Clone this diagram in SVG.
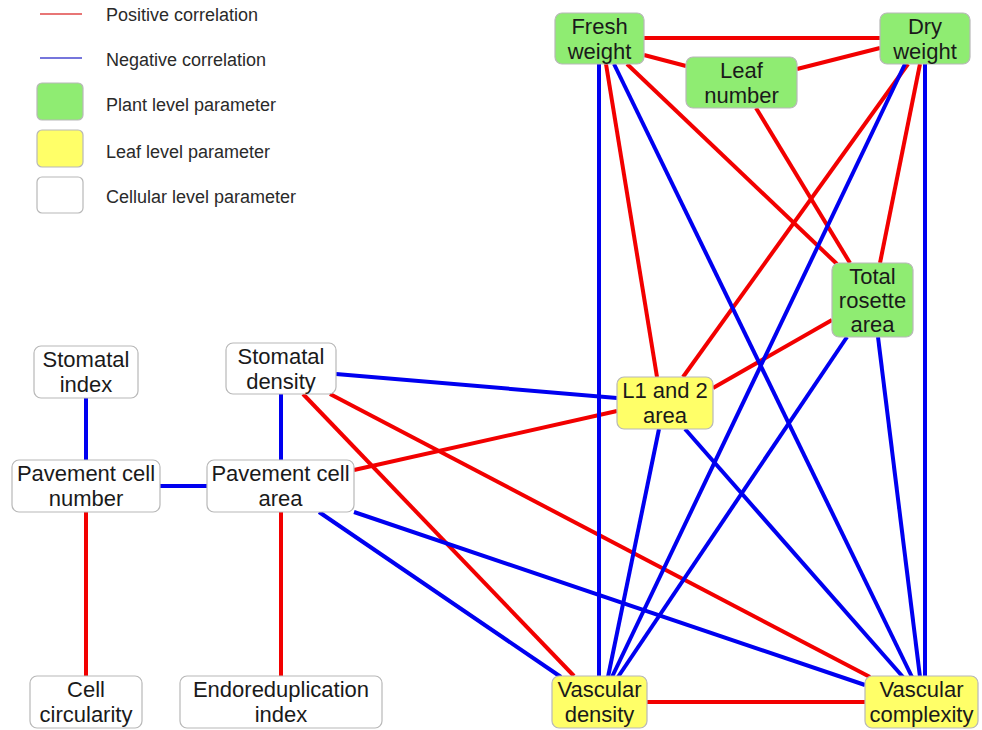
<svg xmlns="http://www.w3.org/2000/svg" width="982" height="730" viewBox="0 0 982 730">
<style>
.pos{stroke:#f20000;stroke-width:4;fill:none}
.neg{stroke:#0000f0;stroke-width:4;fill:none}
.box{stroke:#b8b8b8;stroke-width:1.2}
.plant{fill:#8fec72}
.leaf{fill:#ffff68}
.cell{fill:#ffffff}
text{font-family:"Liberation Sans",Arial,sans-serif;fill:#1a1a1a}
.n{font-size:22px;text-anchor:middle}
.lg{font-size:18px;fill:#2a2a2a}
</style>
<rect width="982" height="730" fill="#ffffff"/>
<g id="legend">
<line x1="40" y1="14" x2="82" y2="14" stroke="#e04848" stroke-width="1.6"/>
<text class="lg" x="106" y="21">Positive correlation</text>
<line x1="40" y1="58" x2="82" y2="58" stroke="#4848d0" stroke-width="1.6"/>
<text class="lg" x="106" y="66">Negative correlation</text>
<rect class="box plant" x="37" y="83" width="46" height="37" rx="5"/>
<text class="lg" x="106" y="111">Plant level parameter</text>
<rect class="box leaf" x="37" y="130" width="46" height="37" rx="5"/>
<text class="lg" x="106" y="158">Leaf level parameter</text>
<rect class="box cell" x="37" y="177" width="46" height="36" rx="5"/>
<text class="lg" x="106" y="203">Cellular level parameter</text>
</g>
<g id="connectors">
<line class="pos" x1="644" y1="38" x2="880" y2="38"/>
<line class="pos" x1="644" y1="55" x2="686" y2="66"/>
<line class="pos" x1="797" y1="69" x2="880" y2="48"/>
<line class="pos" x1="606" y1="64" x2="657" y2="377"/>
<line class="pos" x1="627" y1="64" x2="837" y2="264"/>
<line class="pos" x1="756" y1="108" x2="850" y2="263"/>
<line class="pos" x1="920" y1="64" x2="880" y2="263"/>
<line class="pos" x1="908" y1="64" x2="683" y2="377"/>
<line class="pos" x1="832" y1="320" x2="713" y2="388"/>
<line class="pos" x1="354" y1="470" x2="617" y2="411"/>
<line class="pos" x1="303" y1="394" x2="574" y2="676"/>
<line class="pos" x1="330" y1="394" x2="870" y2="677"/>
<line class="pos" x1="647" y1="702" x2="865" y2="702"/>
<line class="pos" x1="86" y1="512" x2="86" y2="676"/>
<line class="pos" x1="281" y1="512" x2="281" y2="676"/>
<line class="neg" x1="86" y1="398" x2="86" y2="460"/>
<line class="neg" x1="281" y1="394" x2="281" y2="460"/>
<line class="neg" x1="160" y1="486" x2="207" y2="486"/>
<line class="neg" x1="336" y1="374" x2="617" y2="398"/>
<line class="neg" x1="319" y1="512" x2="561" y2="677"/>
<line class="neg" x1="354" y1="512" x2="865" y2="685"/>
<line class="neg" x1="599" y1="64" x2="599" y2="677"/>
<line class="neg" x1="614" y1="64" x2="912" y2="677"/>
<line class="neg" x1="905" y1="64" x2="612" y2="677"/>
<line class="neg" x1="925" y1="64" x2="925" y2="677"/>
<line class="neg" x1="847" y1="337" x2="618" y2="677"/>
<line class="neg" x1="878" y1="337" x2="920" y2="677"/>
<line class="neg" x1="659" y1="429" x2="608" y2="677"/>
<line class="neg" x1="685" y1="429" x2="903" y2="677"/>
</g>
<g id="fresh-weight"><rect class="box plant" x="555" y="13" width="89" height="51" rx="7"/><text class="n" x="599.5" y="34">Fresh</text><text class="n" x="599.5" y="59">weight</text></g>
<g id="dry-weight"><rect class="box plant" x="880" y="13" width="90" height="51" rx="7"/><text class="n" x="925" y="34">Dry</text><text class="n" x="925" y="59">weight</text></g>
<g id="leaf-number"><rect class="box plant" x="686" y="57" width="111" height="51" rx="7"/><text class="n" x="741.5" y="78">Leaf</text><text class="n" x="741.5" y="103">number</text></g>
<g id="total-rosette-area"><rect class="box plant" x="832" y="263" width="81" height="74" rx="7"/><text class="n" x="872.5" y="284">Total</text><text class="n" x="872.5" y="308">rosette</text><text class="n" x="872.5" y="332">area</text></g>
<g id="l1-and-2-area"><rect class="box leaf" x="617" y="377" width="96" height="52" rx="7"/><text class="n" x="665" y="398">L1 and 2</text><text class="n" x="665" y="423">area</text></g>
<g id="stomatal-index"><rect class="box cell" x="34" y="346" width="104" height="52" rx="7"/><text class="n" x="86" y="367">Stomatal</text><text class="n" x="86" y="392">index</text></g>
<g id="stomatal-density"><rect class="box cell" x="226" y="343" width="110" height="51" rx="7"/><text class="n" x="281" y="364">Stomatal</text><text class="n" x="281" y="389">density</text></g>
<g id="pavement-cell-number"><rect class="box cell" x="12" y="460" width="148" height="52" rx="7"/><text class="n" x="86" y="481">Pavement cell</text><text class="n" x="86" y="506">number</text></g>
<g id="pavement-cell-area"><rect class="box cell" x="207" y="460" width="147" height="52" rx="7"/><text class="n" x="280.5" y="481">Pavement cell</text><text class="n" x="280.5" y="506">area</text></g>
<g id="cell-circularity"><rect class="box cell" x="30" y="676" width="112" height="52" rx="7"/><text class="n" x="86" y="697">Cell</text><text class="n" x="86" y="722">circularity</text></g>
<g id="endoreduplication-index"><rect class="box cell" x="180" y="676" width="202" height="52" rx="7"/><text class="n" x="281" y="697">Endoreduplication</text><text class="n" x="281" y="722">index</text></g>
<g id="vascular-density"><rect class="box leaf" x="552" y="676" width="95" height="52" rx="7"/><text class="n" x="599.5" y="697">Vascular</text><text class="n" x="599.5" y="722">density</text></g>
<g id="vascular-complexity"><rect class="box leaf" x="865" y="676" width="113" height="52" rx="7"/><text class="n" x="921.5" y="697">Vascular</text><text class="n" x="921.5" y="722">complexity</text></g>
</svg>
